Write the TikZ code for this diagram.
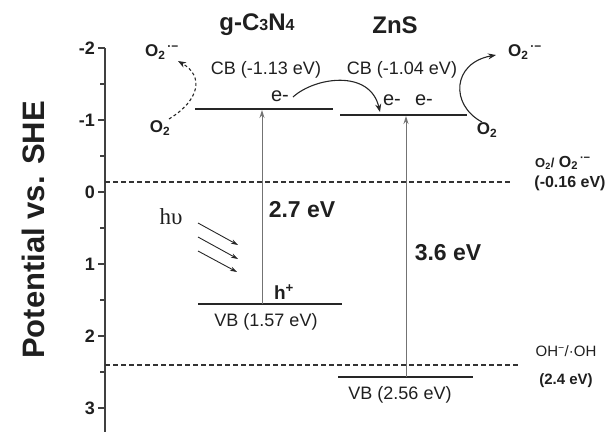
\documentclass[tikz,border=0pt]{standalone}
\usepackage{fontspec}
\setmainfont{Liberation Sans}
\newfontfamily\grserif{Liberation Serif}
\usetikzlibrary{arrows.meta}
\newcommand{\fsz}[1]{\fontsize{#1}{#1}\selectfont}
\newcommand{\radsup}{\textsuperscript{\,·−}}
\begin{document}
\begin{tikzpicture}[x=1pt,y=-1pt,
  axisline/.style={line width=1.3pt, draw=black!75},
  lvl/.style={line width=1.8pt, draw=black!85},
  dsh/.style={line width=1.4pt, draw=black!80, dash pattern=on 5pt off 3pt},
  exc/.style={line width=0.9pt, draw=black!55, -{Stealth[length=8pt,width=5pt]}},
  arc/.style={line width=1.1pt, draw=black!85, -{Stealth[length=8pt,width=6pt]}},
  dsharc/.style={line width=1.1pt, draw=black!85, dash pattern=on 3pt off 2.5pt, -{Stealth[length=8pt,width=6pt]}},
  light/.style={line width=0.9pt, draw=black!85, -{Stealth[length=7pt,width=4.5pt]}},
  tk/.style={inner sep=0pt, text=black!88},
  ticklbl/.style={tk, font=\bfseries\fsz{18}},
  title/.style={tk, font=\bfseries\fsz{24}},
  gap/.style={tk, font=\bfseries\fsz{23}},
  bandlbl/.style={tk, font=\fsz{18}},
  elec/.style={tk, font=\fsz{20}},
  oxy/.style={tk, font=\bfseries\fsz{17}},
  rlbl/.style={tk, font=\bfseries\fsz{16}},
]
\useasboundingbox (0,0) rectangle (614,432);

% axis
\draw[axisline] (105,48) -- (105,432);
\foreach \v/\lab [count=\i] in {-2/-2,-1/-1,0/0,1/1,2/2,3/3} {
  \pgfmathsetmacro\yy{192+72*\v}
  \draw[axisline] (98,\yy) -- (105,\yy);
  \node[ticklbl, anchor=east, name=tl\i] at (95,\yy) {\lab};
}
\foreach \v in {-1.5,-0.5,0.5,1.5,2.5} {
  \pgfmathsetmacro\yy{192+72*\v}
  \draw[axisline] (100,\yy) -- (105,\yy);
}
\node[tk, rotate=90, font=\bfseries\fsz{31}] (ylab) at (33,230) {Potential vs. SHE};

% reference potentials
\draw[dsh] (105,182) -- (512,182);
\draw[dsh] (105,365) -- (520,365);
\node[rlbl] (redox1) at (563,163) {{\fsz{13}O\textsubscript{2}/} O\textsubscript{2}\radsup};
\node[rlbl] (redox1v) at (570,183) {(-0.16 eV)};
\node[tk, font=\fsz{15}] (redox2) at (566,351) {OH\textsuperscript{−}/·OH};
\node[tk, font=\bfseries\fsz{15}] (redox2v) at (566,381) {(2.4 eV)};

% titles
\node[title] (gcn) at (257,25) {g-C{\fsz{16}3}N{\fsz{16}4}};
\node[title] (zns) at (395,25) {ZnS};

% band edges
\coordinate (cbAl) at (195,109); \coordinate (cbAr) at (333,109);
\coordinate (cbBl) at (340,115); \coordinate (cbBr) at (467,115);
\coordinate (vbAl) at (198,304); \coordinate (vbAr) at (342,304);
\coordinate (vbBl) at (338,377); \coordinate (vbBr) at (473,377);
\draw[lvl] (cbAl) -- (cbAr);
\draw[lvl] (cbBl) -- (cbBr);
\draw[lvl] (vbAl) -- (vbAr);
\draw[lvl] (vbBl) -- (vbBr);

\node[bandlbl] (cbA) at (266,70) {CB (-1.13 eV)};
\node[bandlbl] (cbB) at (402,70) {CB (-1.04 eV)};
\node[bandlbl] (vbA) at (266,322) {VB (1.57 eV)};
\node[bandlbl] (vbB) at (400,395) {VB (2.56 eV)};

% excitation arrows
\coordinate (exAb) at (262,304); \coordinate (exAt) at (262,110);
\coordinate (exBb) at (406,377); \coordinate (exBt) at (406,116);
\draw[exc] (exAb) -- (exAt);
\draw[exc] (exBb) -- (exBt);
\node[gap] (gA) at (302,210) {2.7 eV};
\node[gap] (gB) at (448,253) {3.6 eV};

% electrons and holes
\node[elec] (eA) at (280,96) {e-};
\node[elec] (eB1) at (392,100) {e-};
\node[elec] (eB2) at (424,100) {e-};
\node[tk, font=\bfseries\fsz{19}] (hA) at (284,292) {h\textsuperscript{+}};

% electron transfer
\coordinate (trS) at (293,97);
\coordinate (trE) at (380,112);
\draw[arc] (trS) .. controls (315,77) and (370,69) .. (trE);

% light
\node[tk, font=\grserif\fsz{23}] (hv) at (171,217) {hυ};
\coordinate (l1s) at (198,223); \coordinate (l1e) at (238,245);
\coordinate (l2s) at (198,237); \coordinate (l2e) at (238,259);
\coordinate (l3s) at (198,251); \coordinate (l3e) at (237,272);
\draw[light] (l1s) -- (l1e);
\draw[light] (l2s) -- (l2e);
\draw[light] (l3s) -- (l3e);

% oxygen reduction
\node[oxy] (o2l) at (160,128) {O\textsubscript{2}};
\node[oxy] (o2sl) at (162,52) {O\textsubscript{2}\radsup};
\coordinate (dlS) at (169,119);
\coordinate (dlE) at (178,61);
\draw[dsharc] (dlS) .. controls (200,100) and (204,76) .. (dlE);

\node[oxy] (o2r) at (487,130) {O\textsubscript{2}};
\node[oxy] (o2sr) at (525,52) {O\textsubscript{2}\radsup};
\coordinate (drS) at (482,122);
\coordinate (drE) at (496,55);
\draw[arc] (drS) .. controls (450,105) and (452,63) .. (drE);
\end{tikzpicture}
\end{document}
